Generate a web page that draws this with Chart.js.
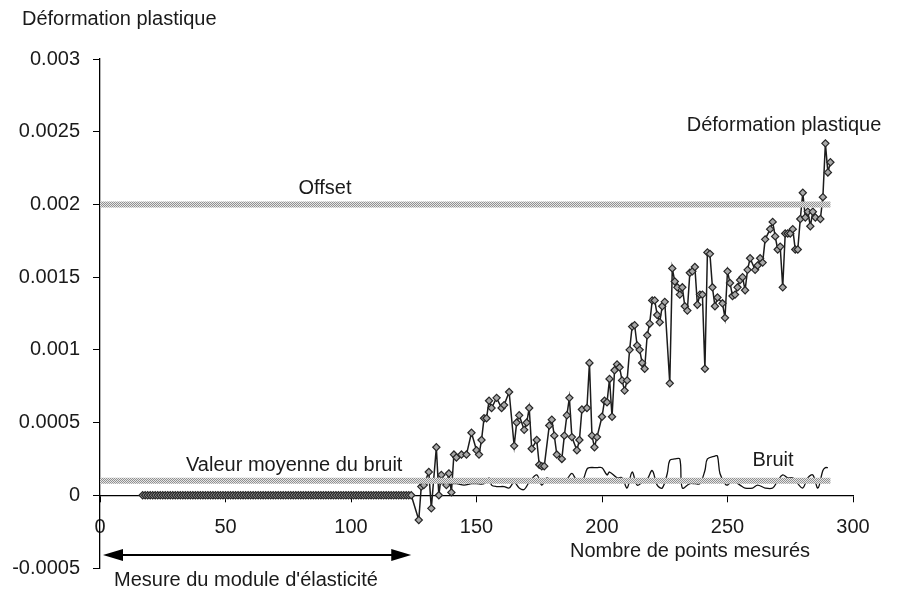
<!DOCTYPE html>
<html>
<head>
<meta charset="utf-8">
<script src="https://cdn.jsdelivr.net/npm/chart.js@4/dist/chart.umd.min.js"></script>
<style>
  html, body { margin: 0; padding: 0; background: #fff; }
  canvas { display: block; }
</style>
</head>
<body>
<canvas id="chart" width="899" height="594"></canvas>
<script>
// Déformation plastique : phase élastique (valeurs nulles) puis points mesurés
const plastX = [
  17, 18, 19, 20, 21, 22, 23, 24, 25, 26, 27, 28, 29, 30, 31, 32, 33, 34, 35, 36,
  37, 38, 39, 40, 41, 42, 43, 44, 45, 46, 47, 48, 49, 50, 51, 52, 53, 54, 55, 56,
  57, 58, 59, 60, 61, 62, 63, 64, 65, 66, 67, 68, 69, 70, 71, 72, 73, 74, 75, 76,
  77, 78, 79, 80, 81, 82, 83, 84, 85, 86, 87, 88, 89, 90, 91, 92, 93, 94, 95, 96,
  97, 98, 99, 100, 101, 102, 103, 104, 105, 106, 107, 108, 109, 110, 111, 112, 113, 114, 115, 116,
  117, 118, 119, 120, 121, 122, 123, 124,
  127, 128, 129, 131, 132, 134, 135, 136, 138, 139, 140, 141, 142, 144, 146, 148, 150, 151, 152, 153,
  154, 155, 156, 158, 160, 161, 163, 165, 166, 167, 169, 170, 171, 172, 174, 175, 176, 177, 179, 180,
  181, 182, 184, 185, 186, 187, 188, 190, 191, 192, 194, 195, 196, 197, 198, 200, 201, 202, 203, 204,
  205, 206, 207, 208, 209, 210, 211, 212, 213, 214, 215, 216, 217, 218, 219, 220, 221, 222, 223, 224,
  225, 227, 228, 229, 230, 231, 232, 233, 234, 235, 236, 237, 238, 239, 240, 241, 242, 243, 244, 245,
  246, 248, 249, 250, 251, 252, 253, 254, 255, 256, 257, 258, 259, 261, 262, 263, 264, 265, 267, 268,
  269, 270, 271, 272, 273, 274, 275, 276, 277, 278, 279, 280, 281, 282, 283, 284, 285, 287, 288, 289,
  290, 291
];
const plastY = [
  0, 0, 0, 0, 0, 0, 0, 0, 0, 0, 0, 0, 0, 0, 0, 0, 0, 0, 0, 0,
  0, 0, 0, 0, 0, 0, 0, 0, 0, 0, 0, 0, 0, 0, 0, 0, 0, 0, 0, 0,
  0, 0, 0, 0, 0, 0, 0, 0, 0, 0, 0, 0, 0, 0, 0, 0, 0, 0, 0, 0,
  0, 0, 0, 0, 0, 0, 0, 0, 0, 0, 0, 0, 0, 0, 0, 0, 0, 0, 0, 0,
  0, 0, 0, 0, 0, 0, 0, 0, 0, 0, 0, 0, 0, 0, 0, 0, 0, 0, 0, 0,
  0, 0, 0, 0, 0, 0, 0, 0,
  -0.00017, 0.00006, 0.00007, 0.00016, -0.00009, 0.00033, 0, 0.00014, 0.00007, 0.00015,
  0.00002, 0.00028, 0.00026, 0.00028, 0.00028, 0.00043, 0.00031, 0.00028, 0.00038, 0.00053,
  0.00053, 0.00065, 0.0006, 0.00067, 0.0006, 0.00062, 0.00071, 0.00034, 0.0005, 0.00055,
  0.00045, 0.0005, 0.0006, 0.00032, 0.00038, 0.00021, 0.0002, 0.0002, 0.00048, 0.00052,
  0.00041, 0.00028, 0.00025, 0.00041, 0.00055, 0.00067, 0.0004, 0.00031, 0.00038, 0.00059,
  0.0006, 0.00091, 0.00041, 0.00033, 0.0004, 0.00054, 0.00065, 0.00064, 0.0008, 0.00054,
  0.00086, 0.0009, 0.00088, 0.00079, 0.00072, 0.00079, 0.001, 0.00116, 0.00117, 0.00103,
  0.001, 0.00091, 0.00087, 0.0011, 0.00118, 0.00134, 0.00134, 0.00124, 0.00119, 0.0013,
  0.00133, 0.00077, 0.00156, 0.00147, 0.00143, 0.00138, 0.00143, 0.0013, 0.00127, 0.00153,
  0.00154, 0.00157, 0.00131, 0.00138, 0.00138, 0.00087, 0.00167, 0.00166, 0.00143, 0.0013,
  0.00136, 0.00132, 0.00122, 0.00154, 0.00146, 0.00137, 0.00138, 0.00143, 0.00148, 0.0015,
  0.00141, 0.00155, 0.00163, 0.00155, 0.00158, 0.00163, 0.0016, 0.00176, 0.00183, 0.00188,
  0.00178, 0.00169, 0.00171, 0.00143, 0.0018, 0.0018, 0.0018, 0.00183, 0.00169, 0.00169,
  0.0019, 0.00208, 0.00191, 0.00195, 0.00185, 0.00195, 0.00191, 0.0019, 0.00205, 0.00242,
  0.00222, 0.00229
];

// Bruit
const bruitX = [
  135, 138, 142, 145, 148, 150, 153, 155, 156, 158, 161, 163, 165, 167, 169, 171, 174, 176, 178, 180,
  182, 184, 186, 188, 190, 192, 194, 195, 198, 200, 202, 203, 206, 208, 210, 212, 214, 216, 218, 220,
  222, 224, 226, 227, 229, 231, 232, 235, 237, 239, 241, 242, 245, 246, 247, 249, 250, 252, 255, 257,
  260, 262, 265, 268, 270, 272, 274, 276, 278, 280, 282, 284, 286, 288, 289, 290
];
const bruitY = [
  0.00008, 0.00008, 0.00008, 0.00007, 0.00008, 0.00008, 0.00008, 0.00012, 0.00007, 0.00006,
  0.00006, 0.00005, 0.00009, 0.00005, 0.00004, 0.00009, 0.00014, 0.00007, 0.00012, 0.0001,
  0.00009, 0.00009, 0.00011, 0.00015, 0.0001, 0.00009, 0.00018, 0.00019, 0.00019, 0.00019,
  0.00014, 0.00016, 0.00012, 0.00012, 0.00005, 0.00016, 0.00007, 0.00009, 0.00011, 0.00017,
  0.00007, 0.00005, 0.00015, 0.00024, 0.00025, 0.00025, 0.00005, 0.00008, 0.00008, 0.00008,
  0.00017, 0.00025, 0.00027, 0.00027, 0.00015, 0.00008, 0.00007, 0.0001, 0.00007, 0.00005,
  0.00005, 0.00007, 0.00005, 0.00005, 0.0001, 0.00014, 0.00012, 0.00012, 0.00008, 0.00005,
  0.00012, 0.00014, 0.00005, 0.00017, 0.00019, 0.00019
];

// Lignes de référence
const refX = [0, 291];
const offsetY = [0.002, 0.002];
const bruitMoyenY = [0.0001, 0.0001];

// Flèche « Mesure du module d'élasticité »
const arrowX = [0, 124];
const arrowY = -0.00041;

const xTickLabels = ["0", "50", "100", "150", "200", "250", "300"];
const yTickLabels = ["-0.0005", "0", "0.0005", "0.001", "0.0015", "0.002", "0.0025", "0.003"];

const FONT = '20px "Liberation Sans", Arial, sans-serif';
const INK = "#1a1a1a";

const toPoints = (xs, ys) => xs.map((x, i) => ({ x, y: ys[i] }));

const canvas = document.getElementById("chart");
const ctx = canvas.getContext("2d");

// motif tramé gris des lignes de référence
const pc = document.createElement("canvas");
pc.width = 2;
pc.height = 2;
const pctx = pc.getContext("2d");
pctx.fillStyle = "#e6e6e6";
pctx.fillRect(0, 0, 2, 2);
pctx.fillStyle = "#909090";
pctx.fillRect(0, 0, 1, 1);
pctx.fillRect(1, 1, 1, 1);
const hatch = ctx.createPattern(pc, "repeat");

const annotations = {
  id: "annotations",
  afterDraw(chart) {
    const c = chart.ctx;
    const xs = chart.scales.x, ys = chart.scales.y;
    c.save();
    c.fillStyle = INK;
    c.font = FONT;
    c.textBaseline = "middle";

    c.textAlign = "left";
    c.fillText("Déformation plastique", 22, 19);
    c.fillText("Valeur moyenne du bruit", 186, 465);
    c.fillText("Mesure du module d'élasticité", 114, 580);
    c.fillText("Nombre de points mesurés", 570, 551);

    c.textAlign = "center";
    c.fillText("Offset", 325, 188);
    c.fillText("Déformation plastique", 784, 125);
    c.fillText("Bruit", 773, 460);

    // flèche double
    const x0 = xs.getPixelForValue(arrowX[0]) + 3;
    const x1 = xs.getPixelForValue(arrowX[1]);
    const y = ys.getPixelForValue(arrowY);
    c.strokeStyle = "#000";
    c.fillStyle = "#000";
    c.lineWidth = 2;
    c.beginPath();
    c.moveTo(x0 + 10, y);
    c.lineTo(x1 - 10, y);
    c.stroke();
    c.beginPath();
    c.moveTo(x0, y);
    c.lineTo(x0 + 20, y - 6);
    c.lineTo(x0 + 20, y + 6);
    c.closePath();
    c.fill();
    c.beginPath();
    c.moveTo(x1, y);
    c.lineTo(x1 - 20, y - 6);
    c.lineTo(x1 - 20, y + 6);
    c.closePath();
    c.fill();
    c.restore();
  }
};

new Chart(canvas, {
  type: "line",
  data: {
    datasets: [
      {
        label: "Offset",
        data: toPoints(refX, offsetY),
        borderColor: hatch,
        borderWidth: 6,
        borderCapStyle: "butt",
        pointRadius: 0,
        order: 0,
      },
      {
        label: "Valeur moyenne du bruit",
        data: toPoints(refX, bruitMoyenY),
        borderColor: hatch,
        borderWidth: 6,
        borderCapStyle: "butt",
        pointRadius: 0,
        order: 0,
      },
      {
        label: "Bruit",
        data: toPoints(bruitX, bruitY),
        borderColor: "#111",
        borderWidth: 1.3,
        pointRadius: 0,
        tension: 0.35,
        order: 2,
      },
      {
        label: "Déformation plastique",
        data: toPoints(plastX, plastY),
        borderColor: "#1c1c1c",
        borderWidth: 1.5,
        pointStyle: "rectRot",
        pointRadius: 3.6,
        pointBackgroundColor: "#a8a8a8",
        pointBorderColor: "#262626",
        pointBorderWidth: 1.2,
        tension: 0,
        order: 1,
      },
    ],
  },
  options: {
    responsive: false,
    animation: false,
    layout: { padding: { top: 59, right: 46, bottom: 26, left: 0 } },
    plugins: {
      legend: { display: false },
      tooltip: { enabled: false },
    },
    scales: {
      x: {
        type: "linear",
        min: 0,
        max: 300,
        position: { y: 0 },
        grid: { drawOnChartArea: false, drawTicks: true, tickLength: 6, color: "#000" },
        border: { color: "#000", width: 1.3 },
        ticks: {
          stepSize: 50,
          color: INK,
          font: { family: '"Liberation Sans", Arial, sans-serif', size: 20 },
          padding: 14,
          maxRotation: 0,
          callback: (v, i) => xTickLabels[i],
        },
      },
      y: {
        type: "linear",
        min: -0.0005,
        max: 0.003,
        position: "left",
        afterFit: (s) => { s.width = 100; },
        grid: { drawOnChartArea: false, drawTicks: true, tickLength: 7, color: "#000" },
        border: { color: "#000", width: 1.3 },
        ticks: {
          stepSize: 0.0005,
          color: INK,
          font: { family: '"Liberation Sans", Arial, sans-serif', size: 20 },
          padding: 13,
          callback: (v, i) => yTickLabels[i],
        },
      },
    },
  },
  plugins: [annotations],
});
</script>
</body>
</html>
